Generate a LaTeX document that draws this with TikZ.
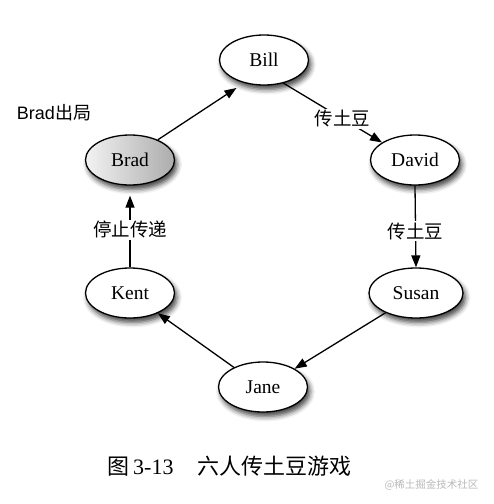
\documentclass[tikz,border=0pt]{standalone}
\usepackage{fontspec}
\setmainfont{Liberation Serif}
\setsansfont{Liberation Sans}
\newfontfamily\cjk{Noto Sans CJK SC}
\usetikzlibrary{shapes.geometric,arrows.meta,shadows.blur}

\begin{document}
\begin{tikzpicture}[x=1pt,y=-1pt,
    person/.style={ellipse,draw,line width=1.3pt,fill=white,inner sep=0pt,
      minimum width=89pt,minimum height=50pt,font=\fontsize{19.5}{19.5}\selectfont,
      blur shadow={shadow xshift=2.5pt,shadow yshift=-4.5pt,shadow blur radius=5pt,shadow opacity=75}},
    pass/.style={-{Triangle[length=12pt,width=9pt]},line width=1.3pt},
    tag/.style={fill=white,inner sep=1.5pt,font=\fontsize{18.5}{18.5}\selectfont\cjk}]
    \useasboundingbox (0,0) rectangle (494,504);

    % the six players
    \node[person] (bill) at (264,60) {Bill};
    \node[person] (david) at (415,160) {David};
    \node[person,minimum width=94pt] (susan) at (416,293) {Susan};
    \node[person] (jane) at (263,387) {Jane};
    \node[person] (kent) at (130,293) {Kent};
    \node[person,left color=gray!10,right color=gray!65] (brad) at (130,160) {Brad};

    % passing the potato
    \draw[pass] (bill.310) -- (david.152) node[tag,pos=0.6] {传土豆};
    \draw[pass] (david.south) -- (susan.north) node[tag,pos=0.56] {传土豆};
    \draw[pass] (susan.213) -- (jane.30);
    \draw[pass] (jane.146) -- (kent.324);
    \draw[pass,shorten >=10pt] (kent.north) -- (brad.south) node[tag,pos=0.46] {停止传递};
    \draw[pass,shorten >=9pt] (brad.36) -- (bill.229);

    \node[font=\fontsize{18}{18}\selectfont\sffamily] (out) at (54,113) {Brad{\cjk 出局}};

    \node[anchor=west,inner sep=0pt,font=\fontsize{22}{22}\selectfont] (caption) at (107,466)
      {{\cjk 图}\hspace{4pt}3-13\hspace{24pt}{\cjk 六人传土豆游戏}};
    \node[anchor=east,text=gray!55,font=\fontsize{10.5}{10.5}\selectfont\cjk] (mark) at (482,485)
      {@稀土掘金技术社区};
\end{tikzpicture}
\end{document}
